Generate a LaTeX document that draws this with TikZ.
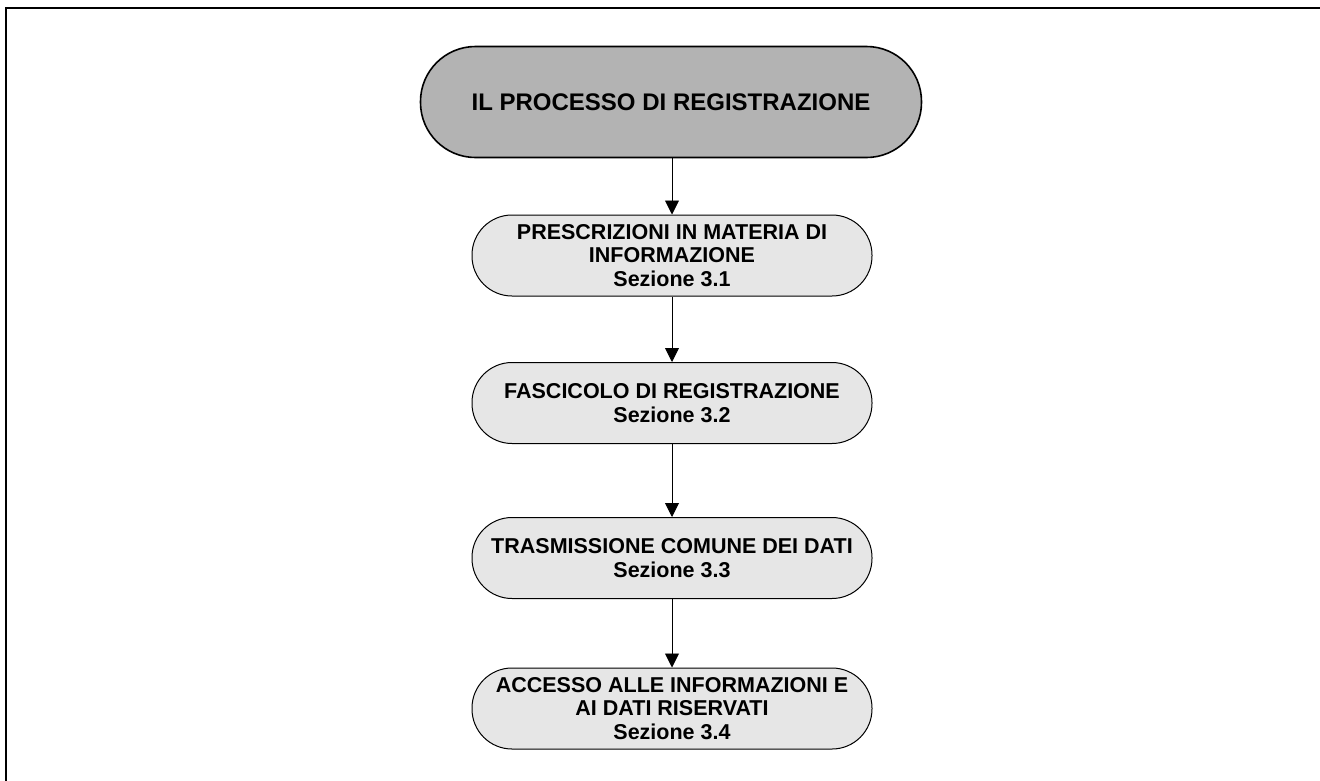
\documentclass[tikz,border=0pt]{standalone}
\usepackage{fontspec}
\setmainfont{Liberation Sans}
\usetikzlibrary{arrows.meta}
\definecolor{colorTitle}{HTML}{B3B3B3}
\definecolor{colorStep}{HTML}{E6E6E6}

\begin{document}
\begin{tikzpicture}[x=1pt,y=-1pt,
        titlebox/.style={draw=black,line width=1.6pt,fill=colorTitle,rounded corners=55pt,minimum width=501pt,minimum height=111pt,inner sep=0pt,align=center,font=\bfseries\fontsize{24}{27}\selectfont},
        stepbox/.style={draw=black,line width=1pt,fill=colorStep,rounded corners=40pt,minimum width=400pt,minimum height=81pt,inner sep=0pt,align=center,font=\bfseries\fontsize{21.5}{23.5}\selectfont},
        link/.style={-{Triangle[length=14pt,width=14pt]},line width=0.9pt}]
        \useasboundingbox (0,0) rectangle (1320,780);
        \clip (0,0) rectangle (1320,780);
        \draw[line width=2pt] (6,790) -- (6,8) -- (1330,8);
        \node[titlebox] (title) at (671,102) {IL PROCESSO DI REGISTRAZIONE};
        \node[stepbox] (info) at (672,255.5) {PRESCRIZIONI IN MATERIA DI\\INFORMAZIONE\\Sezione 3.1};
        \node[stepbox] (dossier) at (672,403) {FASCICOLO DI REGISTRAZIONE\\Sezione 3.2};
        \node[stepbox] (sharing) at (672,558) {TRASMISSIONE COMUNE DEI DATI\\Sezione 3.3};
        \node[stepbox] (access) at (672,708.5) {ACCESSO ALLE INFORMAZIONI E\\AI DATI RISERVATI\\Sezione 3.4};
%        \node at (672,770) {};
        \draw[link] (title.south -| info.north) -- (info.north);
        \draw[link] (info) -- (dossier);
        \draw[link] (dossier) -- (sharing);
        \draw[link] (sharing) -- (access);
    \end{tikzpicture}
\end{document}
